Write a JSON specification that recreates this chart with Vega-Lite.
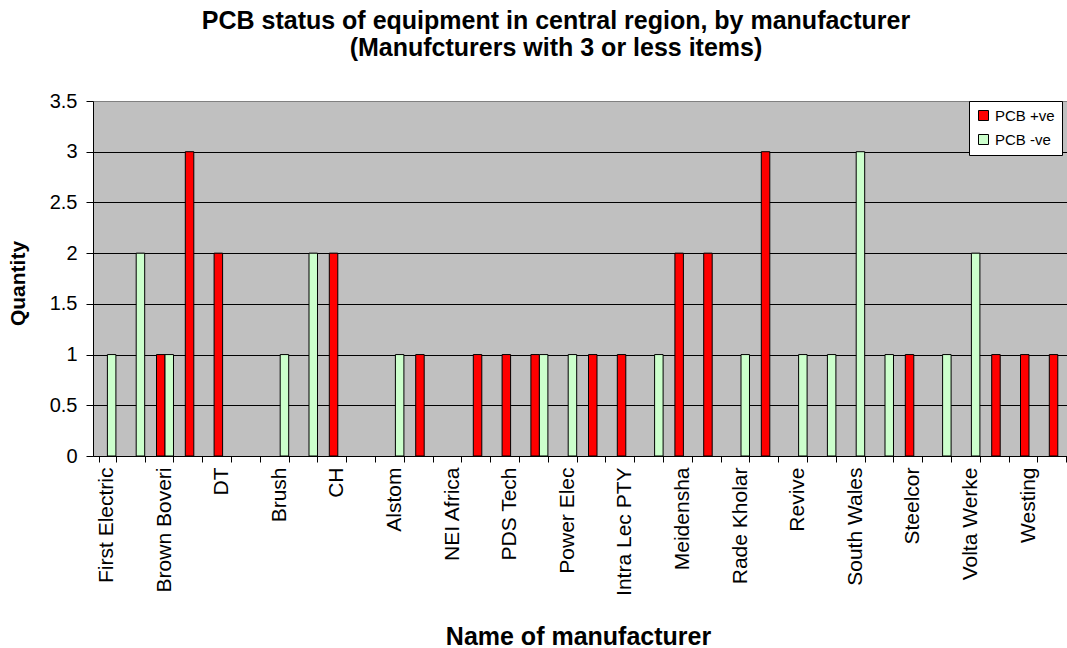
{
  "$schema": "https://vega.github.io/schema/vega-lite/v6.json",
  "autosize": {"type": "none"},
  "padding": {"left": 93, "top": 101, "right": 0, "bottom": 192},
  "width": 974,
  "height": 355,
  "background": "white",
  "title": {
    "text": ["PCB status of equipment in central region, by manufacturer", "(Manufcturers with 3 or less items)"],
    "font": "Liberation Sans",
    "fontSize": 25,
    "fontWeight": "bold",
    "color": "black",
    "lineHeight": 27,
    "anchor": "middle",
    "frame": "group",
    "dx": -24,
    "offset": 5,
    "baseline": "bottom"
  },
  "data": {
    "values": [
      {"manufacturer": "First Electric", "status": "PCB -ve", "quantity": 1},
      {"manufacturer": "Unlabelled 2", "status": "PCB -ve", "quantity": 2},
      {"manufacturer": "Brown Boveri", "status": "PCB +ve", "quantity": 1},
      {"manufacturer": "Brown Boveri", "status": "PCB -ve", "quantity": 1},
      {"manufacturer": "Unlabelled 4", "status": "PCB +ve", "quantity": 3},
      {"manufacturer": "DT", "status": "PCB +ve", "quantity": 2},
      {"manufacturer": "Brush", "status": "PCB -ve", "quantity": 1},
      {"manufacturer": "Unlabelled 8", "status": "PCB -ve", "quantity": 2},
      {"manufacturer": "CH", "status": "PCB +ve", "quantity": 2},
      {"manufacturer": "Alstom", "status": "PCB -ve", "quantity": 1},
      {"manufacturer": "Unlabelled 12", "status": "PCB +ve", "quantity": 1},
      {"manufacturer": "Unlabelled 14", "status": "PCB +ve", "quantity": 1},
      {"manufacturer": "PDS Tech", "status": "PCB +ve", "quantity": 1},
      {"manufacturer": "Unlabelled 16", "status": "PCB +ve", "quantity": 1},
      {"manufacturer": "Unlabelled 16", "status": "PCB -ve", "quantity": 1},
      {"manufacturer": "Power Elec", "status": "PCB -ve", "quantity": 1},
      {"manufacturer": "Unlabelled 18", "status": "PCB +ve", "quantity": 1},
      {"manufacturer": "Intra Lec PTY", "status": "PCB +ve", "quantity": 1},
      {"manufacturer": "Unlabelled 20", "status": "PCB -ve", "quantity": 1},
      {"manufacturer": "Meidensha", "status": "PCB +ve", "quantity": 2},
      {"manufacturer": "Unlabelled 22", "status": "PCB +ve", "quantity": 2},
      {"manufacturer": "Rade Kholar", "status": "PCB -ve", "quantity": 1},
      {"manufacturer": "Unlabelled 24", "status": "PCB +ve", "quantity": 3},
      {"manufacturer": "Revive", "status": "PCB -ve", "quantity": 1},
      {"manufacturer": "Unlabelled 26", "status": "PCB -ve", "quantity": 1},
      {"manufacturer": "South Wales", "status": "PCB -ve", "quantity": 3},
      {"manufacturer": "Unlabelled 28", "status": "PCB -ve", "quantity": 1},
      {"manufacturer": "Steelcor", "status": "PCB +ve", "quantity": 1},
      {"manufacturer": "Unlabelled 30", "status": "PCB -ve", "quantity": 1},
      {"manufacturer": "Volta Werke", "status": "PCB -ve", "quantity": 2},
      {"manufacturer": "Unlabelled 32", "status": "PCB +ve", "quantity": 1},
      {"manufacturer": "Westing", "status": "PCB +ve", "quantity": 1},
      {"manufacturer": "Unlabelled 34", "status": "PCB +ve", "quantity": 1}
    ]
  },
  "mark": {"type": "bar", "stroke": "black", "strokeWidth": 1},
  "encoding": {
    "x": {
      "field": "manufacturer",
      "type": "nominal",
      "title": "Name of manufacturer",
      "scale": {
        "domain": ["First Electric", "Unlabelled 2", "Brown Boveri", "Unlabelled 4", "DT", "Unlabelled 6", "Brush", "Unlabelled 8", "CH", "Unlabelled 10", "Alstom", "Unlabelled 12", "NEI Africa", "Unlabelled 14", "PDS Tech", "Unlabelled 16", "Power Elec", "Unlabelled 18", "Intra Lec PTY", "Unlabelled 20", "Meidensha", "Unlabelled 22", "Rade Kholar", "Unlabelled 24", "Revive", "Unlabelled 26", "South Wales", "Unlabelled 28", "Steelcor", "Unlabelled 30", "Volta Werke", "Unlabelled 32", "Westing", "Unlabelled 34"],
        "range": [0, 979.2],
        "paddingInner": 0.41,
        "paddingOuter": 0.205
      },
      "axis": {
        "tickBand": "extent",
        "grid": false,
        "domainColor": "black",
        "tickColor": "black",
        "tickSize": 6,
        "labelAngle": -90,
        "labelAlign": "right",
        "labelBaseline": "middle",
        "labelPadding": 5,
        "labelOffset": -1,
        "labelFont": "Liberation Sans",
        "labelFontSize": 21,
        "labelColor": "black",
        "labelLimit": 300,
        "labelOverlap": false,
        "labelExpr": "indexof(['First Electric','Brown Boveri','DT','Brush','CH','Alstom','NEI Africa','PDS Tech','Power Elec','Intra Lec PTY','Meidensha','Rade Kholar','Revive','South Wales','Steelcor','Volta Werke','Westing'], datum.value) >= 0 ? datum.label : ''",
        "titleFont": "Liberation Sans",
        "titleFontSize": 25,
        "titleFontWeight": "bold",
        "titleColor": "black",
        "titleX": 485,
        "titleY": 188,
        "titleAlign": "center",
        "titleBaseline": "alphabetic"
      }
    },
    "xOffset": {
      "field": "status",
      "type": "nominal",
      "scale": {"domain": ["PCB +ve", "PCB -ve"], "paddingInner": 0, "paddingOuter": 0}
    },
    "y": {
      "field": "quantity",
      "type": "quantitative",
      "title": "Quantity",
      "scale": {"domain": [0, 3.5], "nice": false},
      "axis": {
        "values": [0, 0.5, 1, 1.5, 2, 2.5, 3, 3.5],
        "format": "~g",
        "grid": true,
        "gridColor": {"condition": {"test": "datum.value === 3.5", "value": "#808080"}, "value": "black"},
        "gridWidth": 1,
        "domainColor": "black",
        "tickColor": "black",
        "tickSize": 7,
        "labelPadding": 9,
        "labelFont": "Liberation Sans",
        "labelFontSize": 20,
        "labelColor": "black",
        "titleFont": "Liberation Sans",
        "titleFontSize": 21,
        "titleFontWeight": "bold",
        "titleColor": "black",
        "titleX": -75,
        "titleY": 182,
        "titleAngle": -90,
        "titleAlign": "center",
        "titleBaseline": "middle"
      }
    },
    "color": {
      "field": "status",
      "type": "nominal",
      "scale": {"domain": ["PCB +ve", "PCB -ve"], "range": ["#FF0000", "#CCFFCC"]},
      "legend": {
        "title": null,
        "orient": "none",
        "legendX": 876,
        "legendY": 0,
        "padding": 7,
        "fillColor": "white",
        "strokeColor": "black",
        "symbolType": "square",
        "symbolSize": 100,
        "symbolStrokeColor": "black",
        "symbolStrokeWidth": 1,
        "labelFont": "Liberation Sans",
        "labelFontSize": 15,
        "labelColor": "black",
        "labelOffset": 4,
        "rowPadding": 8
      }
    }
  },
  "config": {
    "view": {"fill": "#C0C0C0", "stroke": null}
  }
}
